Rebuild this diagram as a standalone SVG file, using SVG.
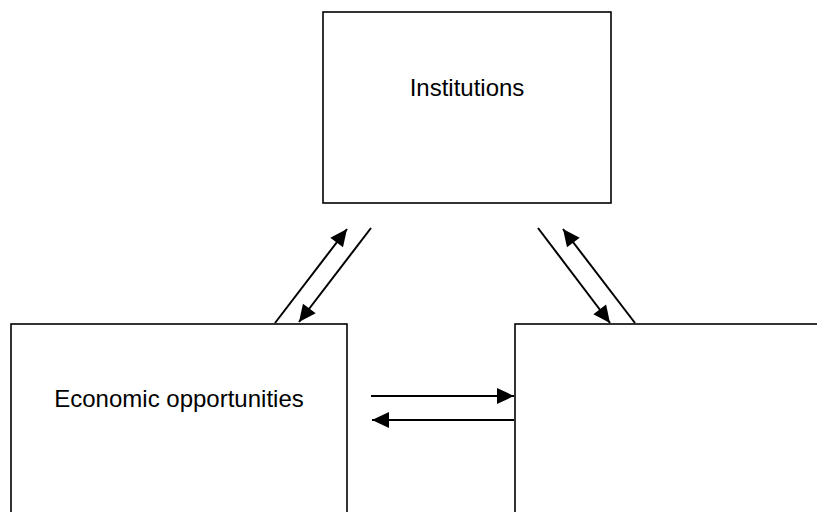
<svg xmlns="http://www.w3.org/2000/svg" width="817" height="512" viewBox="0 0 817 512">
<style>
.box{fill:#fff;stroke:#000;stroke-width:1.6}
.lbl{font-family:"Liberation Sans",Arial,sans-serif;font-size:24px;fill:#000;text-anchor:middle}
.con{stroke:#000;stroke-width:2;fill:none}
</style>
<defs>
<marker id="ah" markerUnits="userSpaceOnUse" markerWidth="18" markerHeight="16" refX="17" refY="8" orient="auto" overflow="visible">
<path d="M0,0 L17,8 L0,16 Z" fill="#000"/>
</marker>
</defs>
<rect width="817" height="512" fill="#fff"/>
<g id="institutions">
<rect class="box" x="323" y="12" width="288" height="191"/>
<text class="lbl" x="467" y="96">Institutions</text>
</g>
<g id="economic">
<rect class="box" x="11" y="324" width="336" height="200"/>
<text class="lbl" x="179" y="407">Economic opportunities</text>
</g>
<g id="right">
<rect class="box" x="515" y="324" width="320" height="200"/>
</g>
<g id="connectors">
<line class="con" x1="275" y1="323" x2="347" y2="229" marker-end="url(#ah)"/>
<line class="con" x1="371" y1="228" x2="299" y2="322" marker-end="url(#ah)"/>
<line class="con" x1="538" y1="228" x2="610" y2="323" marker-end="url(#ah)"/>
<line class="con" x1="635" y1="323" x2="563" y2="229" marker-end="url(#ah)"/>
<line class="con" x1="371" y1="396" x2="514" y2="396" marker-end="url(#ah)"/>
<line class="con" x1="514" y1="420" x2="372" y2="420" marker-end="url(#ah)"/>
</g>
</svg>
